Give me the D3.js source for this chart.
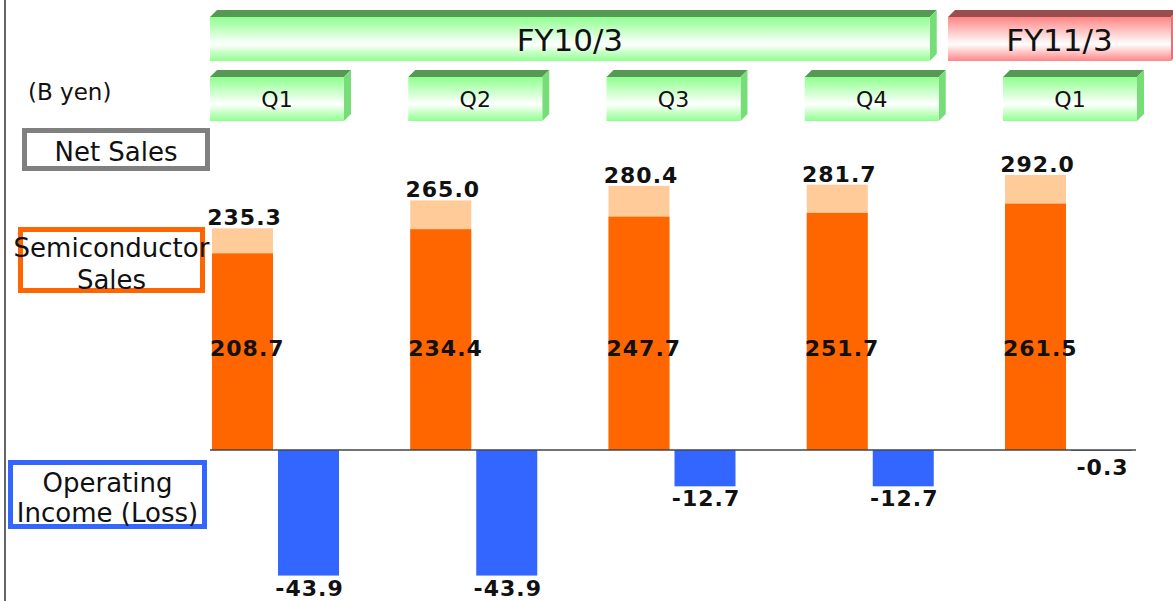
<!DOCTYPE html>
<html>
<head>
<meta charset="utf-8">
<script src="https://cdn.jsdelivr.net/npm/d3@7"></script>
<style>
  body { margin: 0; background: #fff; }
  text { font-family: "DejaVu Sans", Verdana, sans-serif; }
</style>
</head>
<body>
<div id="chart"></div>
<script>
// quarters, fiscal years and values (B yen)
var periods = ["FY10Q1", "FY10Q2", "FY10Q3", "FY10Q4", "FY11Q1"];
var quarterLabels = ["Q1", "Q2", "Q3", "Q4", "Q1"];
var fiscalYears = [
  { label: "FY10/3", first: "FY10Q1", last: "FY10Q4", color: "green" },
  { label: "FY11/3", first: "FY11Q1", last: "FY11Q1", color: "red" }
];
var netSales = [235.3, 265.0, 280.4, 281.7, 292.0];
var semiSales = [208.7, 234.4, 247.7, 251.7, 261.5];
var opIncome = [-43.9, -43.9, -12.7, -12.7, -0.3];

var width = 1173, height = 601;
var baseY = 450;

var svg = d3.select("#chart")
  .append("svg")
  .attr("width", width)
  .attr("height", height);

var defs = svg.append("defs");

// gradients for the 3d header boxes
function grad(id, c) {
  var g = defs.append("linearGradient").attr("id", id)
    .attr("x1", 0).attr("y1", 0).attr("x2", 0).attr("y2", 1);
  g.append("stop").attr("offset", "0%").attr("stop-color", c);
  g.append("stop").attr("offset", "62%").attr("stop-color", "#ffffff");
  g.append("stop").attr("offset", "100%").attr("stop-color", c);
}
grad("gGreen", "#8fff8f");
grad("gRed", "#ff8585");

var palette = {
  green: { fill: "url(#gGreen)", top: "#559955", side: "#77dd77" },
  red: { fill: "url(#gRed)", top: "#994d4d", side: "#dd7777" }
};

// plain hyphen for negatives, like the original
var fmt = function(v) { return d3.format(".1f")(v).replace("\u2212", "-"); };

// scales
var x = d3.scaleBand()
  .domain(periods)
  .range([212, 1132])
  .paddingInner(1 - 127 / 198.25)
  .paddingOuter(0);

var xSub = d3.scaleBand()
  .domain(["semi", "op"])
  .range([0, x.bandwidth()])
  .paddingInner(5 / 66);

var yNet = d3.scaleLinear().domain([0, 300]).range([baseY, baseY - 282.6]);
var yOp = d3.scaleLinear().domain([-50, 0]).range([baseY + 143, baseY]);

var rows = periods.map(function(p, i) {
  return { period: p, q: quarterLabels[i], net: netSales[i], semi: semiSales[i], op: opIncome[i] };
});

// left frame line
svg.append("line")
  .attr("x1", 5).attr("x2", 5).attr("y1", 0).attr("y2", height)
  .attr("stroke", "#333").attr("stroke-width", 1.5);

// 3d box helper
function box3d(g, x0, y0, w, h, d, col) {
  var c = palette[col];
  g.append("path")
    .attr("d", "M" + x0 + "," + y0 + "L" + (x0 + d) + "," + (y0 - d) + "L" + (x0 + w + d) + "," + (y0 - d) + "L" + (x0 + w) + "," + y0 + "Z")
    .attr("fill", c.top);
  g.append("path")
    .attr("d", "M" + (x0 + w) + "," + y0 + "L" + (x0 + w + d) + "," + (y0 - d) + "L" + (x0 + w + d) + "," + (y0 + h - d) + "L" + (x0 + w) + "," + (y0 + h) + "Z")
    .attr("fill", c.side);
  g.append("rect")
    .attr("x", x0).attr("y", y0).attr("width", w).attr("height", h)
    .attr("fill", c.fill);
}

// fiscal year headers
var fyG = svg.append("g");
fiscalYears.forEach(function(fy) {
  var left = fy.color === "green" ? x(fy.first) - 2 : x(fy.first) - 57;
  var right = fy.color === "green" ? x(fy.last) + x.bandwidth() - 4 : width - 2;
  var g = fyG.append("g");
  box3d(g, left, 17, right - left, 44, 7, fy.color);
  g.append("text")
    .attr("x", (left + right) / 2).attr("y", 51)
    .attr("text-anchor", "middle")
    .attr("font-size", 31)
    .attr("fill", "#111")
    .text(fy.label);
});

// quarter headers
var qG = svg.append("g");
rows.forEach(function(d, i) {
  var g = qG.append("g");
  var left = x(d.period) - 2;
  box3d(g, left, 77, 134, 44, 7, "green");
  g.append("text")
    .attr("x", left + 67).attr("y", 107)
    .attr("text-anchor", "middle")
    .attr("font-size", 22)
    .attr("fill", "#111")
    .text(d.q);
});

// unit label
svg.append("text")
  .attr("x", 28).attr("y", 100)
  .attr("font-size", 23)
  .attr("fill", "#111")
  .text("(B yen)");

// legend boxes on the left
function legendBox(x0, y0, w, h, color, lines, y1, lineH) {
  svg.append("rect")
    .attr("x", x0 + 2.5).attr("y", y0 + 2.5)
    .attr("width", w - 5).attr("height", h - 5)
    .attr("fill", "#fff")
    .attr("stroke", color).attr("stroke-width", 5);
  lines.forEach(function(t, i) {
    svg.append("text")
      .attr("x", x0 + w / 2).attr("y", y1 + i * lineH)
      .attr("text-anchor", "middle")
      .attr("font-size", 26)
      .attr("fill", "#111")
      .text(t);
  });
}
legendBox(22, 128, 188, 43, "#808080", ["Net Sales"], 161, 0);
legendBox(18, 227, 187, 66, "#ff6600", ["Semiconductor", "Sales"], 257, 32);
legendBox(8, 460, 199, 69, "#3366ff", ["Operating", "Income (Loss)"], 492, 30);

// bars
var barsG = svg.append("g");

barsG.selectAll(".net")
  .data(rows)
  .enter().append("rect")
  .attr("class", "net")
  .attr("x", function(d) { return x(d.period) + xSub("semi"); })
  .attr("y", function(d) { return yNet(d.net); })
  .attr("width", xSub.bandwidth())
  .attr("height", function(d) { return yNet(0) - yNet(d.net); })
  .attr("fill", "#ffcc99");

barsG.selectAll(".semi")
  .data(rows)
  .enter().append("rect")
  .attr("class", "semi")
  .attr("x", function(d) { return x(d.period) + xSub("semi"); })
  .attr("y", function(d) { return yNet(d.semi); })
  .attr("width", xSub.bandwidth())
  .attr("height", function(d) { return yNet(0) - yNet(d.semi); })
  .attr("fill", "#ff6600");

barsG.selectAll(".op")
  .data(rows)
  .enter().append("rect")
  .attr("class", "op")
  .attr("x", function(d) { return x(d.period) + xSub("op"); })
  .attr("y", yOp(0))
  .attr("width", xSub.bandwidth())
  .attr("height", function(d) { return yOp(d.op) - yOp(0); })
  .attr("fill", "#3366ff");

// baseline
svg.append("line")
  .attr("x1", 210).attr("x2", 1136)
  .attr("y1", baseY).attr("y2", baseY)
  .attr("stroke", "#444").attr("stroke-width", 1.5);

// value labels
var lblG = svg.append("g")
  .attr("font-size", 22)
  .attr("font-weight", "bold")
  .attr("fill", "#111");

lblG.selectAll(".netLbl")
  .data(rows)
  .enter().append("text")
  .attr("x", function(d) { return x(d.period) + xSub("semi") + xSub.bandwidth() / 2 + 2; })
  .attr("y", function(d) { return yNet(d.net) - 3; })
  .attr("text-anchor", "middle")
  .attr("letter-spacing", 1)
  .text(function(d) { return fmt(d.net); });

lblG.selectAll(".semiLbl")
  .data(rows)
  .enter().append("text")
  .attr("x", function(d) { return x(d.period) - 2; })
  .attr("y", yNet(100))
  .attr("letter-spacing", 1)
  .text(function(d) { return fmt(d.semi); });

lblG.selectAll(".opLbl")
  .data(rows)
  .enter().append("text")
  .attr("x", function(d) { return x(d.period) + xSub("op") + xSub.bandwidth() / 2 + 1; })
  .attr("y", function(d) { return yOp(d.op) + (d.op > -2 ? 24 : 20); })
  .attr("text-anchor", "middle")
  .attr("letter-spacing", 1)
  .text(function(d) { return fmt(d.op); });
</script>
</body>
</html>
